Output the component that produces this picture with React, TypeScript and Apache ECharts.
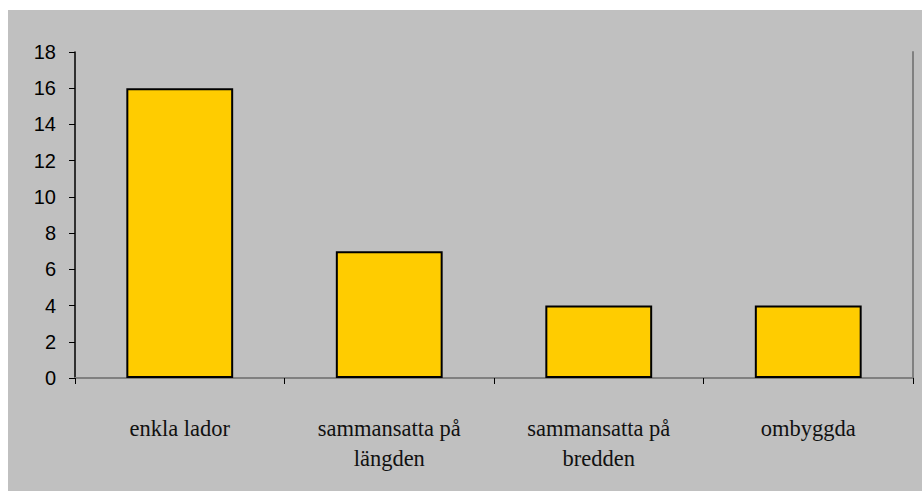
import React, { useEffect, useRef } from "react";
import * as echarts from "echarts";

const categories = ["enkla lador", "sammansatta på\nlängden", "sammansatta på\nbredden", "ombyggda"];
const values = [16, 7, 4, 4];

export default function App() {
  const ref = useRef<HTMLDivElement>(null);
  useEffect(() => {
    if (!ref.current) return;
    const chart = echarts.init(ref.current, undefined, { renderer: "svg" });
    chart.setOption({
      animation: false,
      backgroundColor: "#C0C0C0",
      grid: { left: 67, top: 42, right: 9, bottom: 113, containLabel: false },
      xAxis: [
        {
          type: "category",
          data: categories,
          axisLine: { lineStyle: { color: "#000", width: 1.5 } },
          axisTick: { show: true, length: 6, lineStyle: { color: "#000" } },
          axisLabel: {
            color: "#111",
            fontFamily: "Liberation Serif, Times New Roman, serif",
            fontSize: 22.5,
            lineHeight: 30,
            margin: 35,
            interval: 0,
          },
        },
        {
          type: "category",
          position: "top",
          data: categories,
          axisLine: { lineStyle: { color: "#808080", width: 2 } },
          axisTick: { show: false },
          axisLabel: { show: false },
        },
      ],
      yAxis: [
        {
          type: "value",
          min: 0,
          max: 18,
          interval: 2,
          axisLine: { show: true, lineStyle: { color: "#000", width: 1.5 } },
          axisTick: { show: true, length: 6, lineStyle: { color: "#000" } },
          splitLine: { show: false },
          axisLabel: {
            color: "#000",
            fontFamily: "Liberation Sans, Arial, sans-serif",
            fontSize: 20,
            margin: 19,
          },
        },
        {
          type: "value",
          position: "right",
          min: 0,
          max: 18,
          interval: 2,
          axisLine: { show: true, lineStyle: { color: "#808080", width: 2 } },
          axisTick: { show: false },
          axisLabel: { show: false },
          splitLine: { show: false },
        },
      ],
      series: [
        {
          type: "bar",
          data: values,
          barWidth: "51%",
          itemStyle: { color: "#FFCC00", borderColor: "#000", borderWidth: 2 },
        },
      ],
    });
    return () => chart.dispose();
  }, []);
  return (
    <div
      ref={ref}
      style={{ position: "absolute", left: 8, top: 10, width: 914, height: 481 }}
    />
  );
}
